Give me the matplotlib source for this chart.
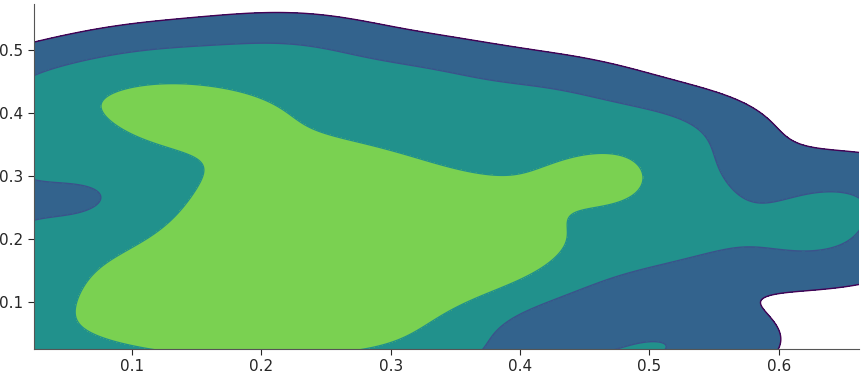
import numpy as np
import matplotlib
matplotlib.use("Agg")
import matplotlib.pyplot as plt

# sample points (x, y)
xs = [0.10, 0.17, 0.23, 0.31,
      0.07, 0.14, 0.20, 0.26, 0.32,
      0.11, 0.17, 0.23, 0.29, 0.35, 0.40,
      0.15, 0.21, 0.27, 0.33, 0.40,
      0.17, 0.23, 0.29, 0.35,
      0.13, 0.24, 0.30,
      0.10, 0.16, 0.22,
      0.43, 0.47,
      0.02, 0.015, 0.015, 0.035, 0.12, 0.22, 0.32, 0.42,
      0.50, 0.50, 0.51, 0.44, 0.52, 0.63, 0.65]
ys = [0.03, 0.03, 0.03, 0.02,
      0.11, 0.09, 0.09, 0.09, 0.09,
      0.15, 0.15, 0.15, 0.15, 0.15, 0.15,
      0.21, 0.21, 0.21, 0.21, 0.21,
      0.27, 0.27, 0.27, 0.27,
      0.34, 0.33, 0.33,
      0.40, 0.40, 0.40,
      0.31, 0.31,
      0.05, 0.205, 0.315, 0.43, 0.47, 0.49, 0.45, 0.42,
      0.26, 0.19, 0.37, -0.02, 0.04, 0.19, 0.27]

x_lim = (0.0243, 0.662)
y_lim = (0.0254, 0.573)
bw_x, bw_y = 0.055, 0.045
level_fracs = [0.08, 0.28, 0.575]

fill_colors = ["#33638d", "#21918c", "#7ad151"]
line_colors = ["#440154", "#3b528b", "#21918c"]

gx = np.linspace(-0.05, 0.75, 400)
gy = np.linspace(-0.05, 0.65, 350)
X, Y = np.meshgrid(gx, gy)
Z = np.zeros_like(X)
for px, py in zip(xs, ys):
    Z += np.exp(-0.5 * (((X - px) / bw_x) ** 2 + ((Y - py) / bw_y) ** 2))
Z /= Z.max()

fig = plt.figure(figsize=(8.62, 3.75), dpi=100)
ax = fig.add_axes([0.0394, 0.0693, 0.9571, 0.9197])
levels = level_fracs + [1.01]
ax.contourf(X, Y, Z, levels=levels, colors=fill_colors)
ax.contour(X, Y, Z, levels=level_fracs, colors=line_colors, linewidths=1)

ax.set_xlim(*x_lim)
ax.set_ylim(*y_lim)
ax.set_xticks([0.1, 0.2, 0.3, 0.4, 0.5, 0.6])
ax.set_yticks([0.1, 0.2, 0.3, 0.4, 0.5])
ax.tick_params(labelsize=11, colors="#262626", length=4)
for side in ["top", "right"]:
    ax.spines[side].set_visible(False)
for side in ["left", "bottom"]:
    ax.spines[side].set_color("#555555")

fig.savefig("out.png", dpi=100)
